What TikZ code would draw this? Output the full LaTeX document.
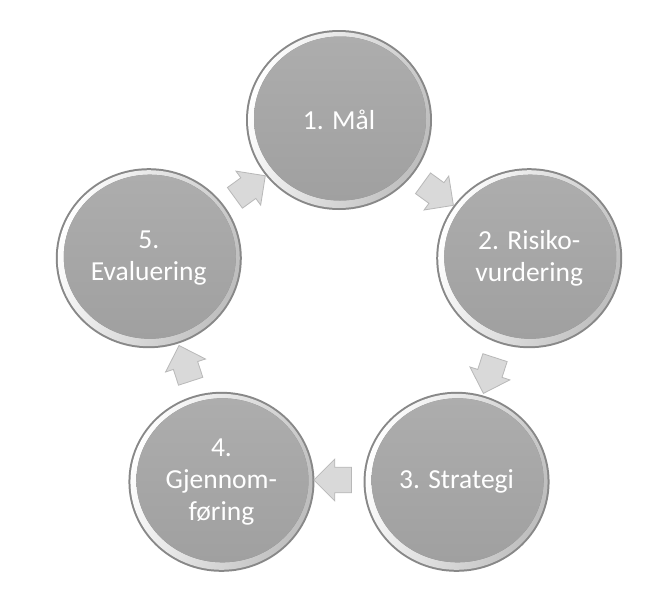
\documentclass[tikz,border=0pt]{standalone}
\usepackage{fontspec}
\setmainfont{Carlito}
\usetikzlibrary{calc,shapes.geometric,shapes.arrows}
\definecolor{rimdark}{HTML}{888888}
\definecolor{rimlight}{HTML}{BDBDBD}
\definecolor{facetop}{HTML}{ADADAD}
\definecolor{facebot}{HTML}{A0A0A0}
\definecolor{arrowfill}{HTML}{D9D9D9}
\definecolor{arrowline}{HTML}{B8B8B8}
\tikzset{
  stagecircle/.style={ellipse, minimum width=186pt, minimum height=180pt, inner sep=0pt,
    fill=rimdark, text=white, align=center,
    font=\fontsize{27.5}{32}\selectfont,
    path picture={
      \fill[left color=white, right color=rimlight, shading angle=70]
        (path picture bounding box.center) ellipse [x radius=91pt, y radius=88pt];
      \fill[top color=facetop, bottom color=facebot]
        ([yshift=1.5pt,xshift=1pt]path picture bounding box.center) ellipse [x radius=86pt, y radius=82pt];
    }},
  cyclearrow/.style={single arrow, minimum height=28pt, minimum width=42pt,
    single arrow head extend=8pt, inner sep=12pt, fill=arrowfill, draw=arrowline, line width=0.8pt}
}
\begin{document}
\begin{tikzpicture}[x=1pt,y=1pt]
\useasboundingbox (0,0) rectangle (669,-600);
\fill[white] (0,0) rectangle (669,-600);
\coordinate (ctr) at (339,-320);
\node[stagecircle] (n1) at ($(ctr)+(90:200)$) {1. Mål};
\node[stagecircle] (n2) at ($(ctr)+(18:200)$) {2. Risiko-\\vurdering};
\node[stagecircle] (n3) at ($(ctr)+(-54:200)$) {3. Strategi};
\node[stagecircle] (n4) at ($(ctr)+(-126:200)$) {4.\\Gjennom-\\føring};
\node[stagecircle] (n5) at ($(ctr)+(162:200)$) {5.\\Evaluering};
\node[cyclearrow, rotate=-36] (a12) at ($(ctr)+(54:160)$) {};
\node[cyclearrow, rotate=-108] (a23) at ($(ctr)+(-18:160)$) {};
\node[cyclearrow, rotate=180] (a34) at ($(ctr)+(-90:160)$) {};
\node[cyclearrow, rotate=108] (a45) at ($(ctr)+(-162:160)$) {};
\node[cyclearrow, rotate=36] (a51) at ($(ctr)+(126:160)$) {};
\end{tikzpicture}
\end{document}
